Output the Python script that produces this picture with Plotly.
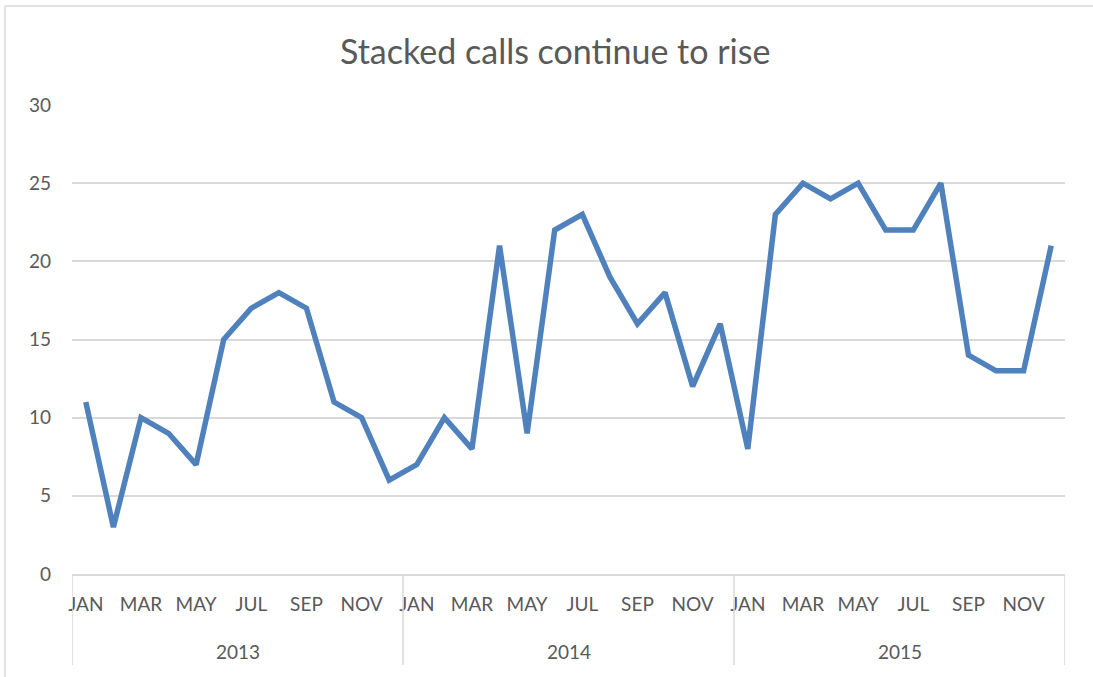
import plotly.graph_objects as go

years = ["2013", "2014", "2015"]
months = ["JAN", "FEB", "MAR", "APR", "MAY", "JUN", "JUL", "AUG", "SEP", "OCT", "NOV", "DEC"]
calls_2013 = [11, 3, 10, 9, 7, 15, 17, 18, 17, 11, 10, 6]
calls_2014 = [7, 10, 8, 21, 9, 22, 23, 19, 16, 18, 12, 16]
calls_2015 = [8, 23, 25, 24, 25, 22, 22, 25, 14, 13, 13, 21]
y_ticks = [0, 5, 10, 15, 20, 25, 30]

values = calls_2013 + calls_2014 + calls_2015
n = len(values)
x_idx = list(range(n))
labels = [f"{m} {y}" for y in years for m in months]

font_family = "Lato, 'Open Sans', sans-serif"
grey = "#595959"
line_grey = "#d9d9d9"

fig = go.Figure()
fig.add_trace(go.Scatter(
    x=x_idx, y=values, mode="lines",
    line=dict(color="#4f81bd", width=5.5),
    text=labels, hovertemplate="%{text}: %{y}<extra></extra>",
    showlegend=False,
))

tickvals = [i for i in x_idx if i % 2 == 0]
ticktext = [months[i % 12] for i in tickvals]

fig.update_layout(
    width=1093, height=677,
    margin=dict(l=72, r=28, t=105, b=103),
    paper_bgcolor="white", plot_bgcolor="white",
    font=dict(family=font_family, color=grey, size=19),
    xaxis=dict(
        range=[-0.5, n - 0.5], tickvals=tickvals, ticktext=ticktext,
        showgrid=False, zeroline=False, showline=True, linecolor=line_grey, linewidth=1.5,
        ticks="", ticklabelstandoff=12, tickfont=dict(size=19, color=grey),
        fixedrange=True,
    ),
    yaxis=dict(
        range=[0, 30], tickvals=y_ticks, showgrid=True, gridcolor=line_grey, gridwidth=1.5,
        zeroline=False, showline=False, ticks="", ticklabelstandoff=20,
        tickfont=dict(size=19, color=grey), fixedrange=True,
    ),
)

# Title
fig.add_annotation(
    text="Stacked calls continue to rise", xref="paper", yref="paper",
    x=(555 - 72) / 993, y=(574 - 50) / 469, showarrow=False,
    font=dict(size=34, color=grey, family=font_family), xanchor="center", yanchor="middle",
)

# Year group dividers and labels
for k in range(len(years) + 1):
    xv = k * 12 - 0.5
    fig.add_shape(type="line", xref="x", yref="paper", x0=xv, x1=xv, y0=0, y1=-0.194,
                  line=dict(color=line_grey, width=1.5))
for k, yr in enumerate(years):
    fig.add_annotation(text=yr, xref="x", yref="paper", x=k * 12 + 5.5, y=-0.166,
                       showarrow=False, font=dict(size=19, color=grey),
                       xanchor="center", yanchor="middle")

# Outer chart frame (partially visible)
fig.add_shape(type="line", xref="paper", yref="paper", x0=-0.0675, x1=-0.0675, y0=-0.3, y1=1.211,
              line=dict(color=line_grey, width=1.5))
fig.add_shape(type="line", xref="paper", yref="paper", x0=-0.0675, x1=1.1, y0=1.211, y1=1.211,
              line=dict(color=line_grey, width=1.5))

fig.write_html("out.html", config={"displayModeBar": False},
               post_script="document.body.style.margin='0';")
